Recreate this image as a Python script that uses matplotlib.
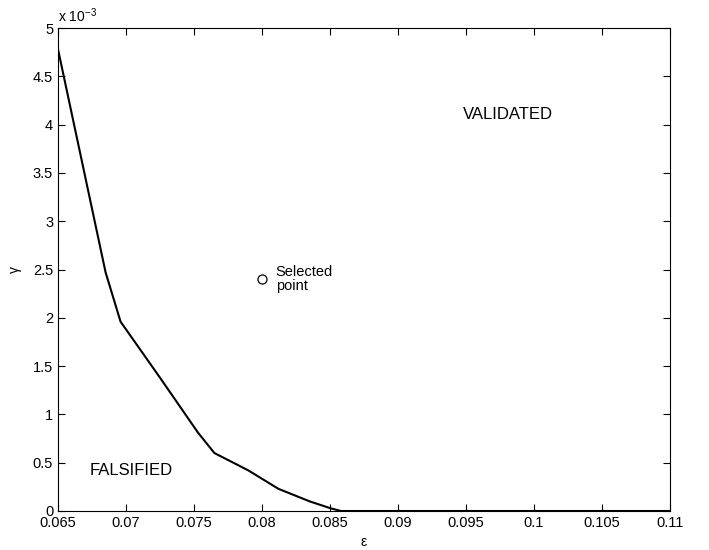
import matplotlib
matplotlib.use('Agg')
import matplotlib.pyplot as plt
from matplotlib.ticker import FuncFormatter, MultipleLocator

plt.rcParams['font.family'] = ['Liberation Sans', 'DejaVu Sans']
plt.rcParams['mathtext.fontset'] = 'custom'
plt.rcParams['mathtext.rm'] = 'Liberation Sans'
plt.rcParams['mathtext.it'] = 'Liberation Sans'

# boundary between falsified / validated regions
eps = [0.065, 0.0685, 0.0696, 0.0725, 0.0753, 0.0765, 0.0790, 0.0812, 0.0835, 0.0850, 0.0858, 0.0870, 0.095, 0.11]
gamma = [4.78e-3, 2.47e-3, 1.96e-3, 1.38e-3, 0.81e-3, 0.60e-3, 0.42e-3, 0.23e-3, 0.10e-3, 0.03e-3, 0.0, 0.0, 0.0, 0.0]

sel_eps = 0.080
sel_gamma = 2.40e-3

fig = plt.figure(figsize=(7.09, 5.5), dpi=100)
ax = fig.add_axes([58/709, 39/550, 612/709, 483/550])

ax.plot(eps, gamma, color='black', linewidth=1.5)
ax.plot(sel_eps, sel_gamma, 'o', markerfacecolor='white', markeredgecolor='black', markersize=6.5, markeredgewidth=0.9)
ax.text(0.0810, 2.40e-3, 'Selected\npoint', fontsize=10.5, va='center', ha='left', linespacing=1.0)
ax.text(0.0981, 4.10e-3, 'VALIDATED', fontsize=12, ha='center', va='center')
ax.text(0.0673, 0.42e-3, 'FALSIFIED', fontsize=12, ha='left', va='center')

ax.set_xlim(0.065, 0.11)
ax.set_ylim(0, 5e-3)
ax.xaxis.set_major_locator(MultipleLocator(0.005))
ax.yaxis.set_major_locator(MultipleLocator(0.5e-3))
ax.xaxis.set_major_formatter(FuncFormatter(lambda v, p: '%g' % round(v, 4)))
ax.yaxis.set_major_formatter(FuncFormatter(lambda v, p: '%g' % round(v * 1e3, 2)))
ax.tick_params(direction='in', top=True, right=True, labelsize=10.5, length=5, width=0.8)
for s in ax.spines.values():
    s.set_linewidth(0.8)
ax.set_xlabel('ε', fontsize=10, labelpad=4)
ax.set_ylabel('γ', fontsize=10, labelpad=8)
ax.text(0.0, 1.006, 'x 10$^{-3}$', transform=ax.transAxes, fontsize=10, ha='left', va='bottom')

fig.savefig('out.png', dpi=100)
